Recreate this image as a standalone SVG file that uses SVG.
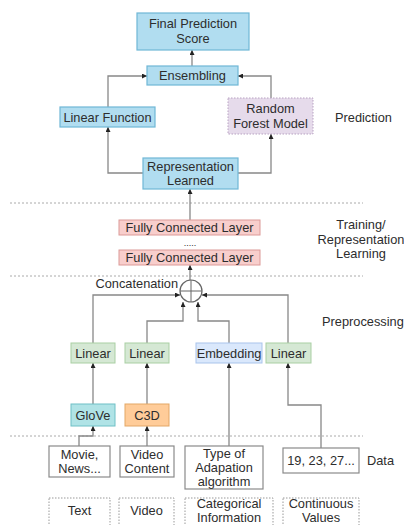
<svg xmlns="http://www.w3.org/2000/svg" width="404" height="525" viewBox="0 0 404 525">
<defs>
<marker id="ah" markerUnits="userSpaceOnUse" markerWidth="5" markerHeight="5" refX="5" refY="2.5" orient="auto">
<path d="M0,0 L5,2.5 L0,5 z" fill="#222"/>
</marker>
<style>
text{font-family:"Liberation Sans",Arial,sans-serif;font-size:12.8px;fill:#2d2d2d;}
.c{text-anchor:middle;}
.blue{fill:#b1ddf0;stroke:#6fb7d6;stroke-width:1.2;}
.red{fill:#f8cecc;stroke:#dc9a98;stroke-width:1;}
.green{fill:#d5e8d4;stroke:#a9cfa3;stroke-width:1;}
.lblue{fill:#dae8fc;stroke:#a9c4eb;stroke-width:1;}
.teal{fill:#b0e3e6;stroke:#6fc0c6;stroke-width:1;}
.orange{fill:#ffcc99;stroke:#e3a766;stroke-width:1;}
.purple{fill:#e6dbeb;stroke:#b8a2c2;stroke-width:1;stroke-dasharray:1.5,1.5;}
.data{fill:#fff;stroke:#8a8a8a;stroke-width:1.2;}
.dbox{fill:#fff;stroke:#999;stroke-width:1;stroke-dasharray:1.5,1.5;}
.sep{stroke:#aaa;stroke-width:1;stroke-dasharray:2,2;fill:none;}
.ln{fill:none;stroke:#888;stroke-width:1.3;}
.ar{marker-end:url(#ah);}
</style>
</defs>
<rect width="404" height="525" fill="#fff"/>

<g id="separators">
<path class="sep" d="M10,203 H363"/>
<path class="sep" d="M10,276 H363"/>
<path class="sep" d="M10,436 H363"/>
</g>

<g id="connectors">
<path class="ln ar" d="M192,66 V50"/>
<path class="ln ar" d="M108,107 V76 H147"/>
<path class="ln ar" d="M271,98 V76 H238"/>
<path class="ln ar" d="M143,173 H108 V127"/>
<path class="ln ar" d="M238,173 H271 V134"/>
<path class="ln ar" d="M190,220 V189"/>
<path class="ln ar" d="M190,280 V265"/>
<path class="ln ar" d="M93,343 V295 H180"/>
<path class="ln ar" d="M147,343 V321 H183 V302"/>
<path class="ln ar" d="M229,343 V321 H198 V302"/>
<path class="ln ar" d="M288,343 V295 H202"/>
<path class="ln ar" d="M93,404 V363"/>
<path class="ln ar" d="M147,404 V363"/>
<path class="ln ar" d="M229,446 V363"/>
<path class="ln ar" d="M321,448 V405 H288 V363"/>
<path class="ln ar" d="M79,446 V436 H93 V426"/>
<path class="ln ar" d="M147,446 V426"/>
</g>

<g id="final"><rect class="blue" x="137" y="13" width="112" height="37"/><text class="c" x="193" y="28">Final Prediction</text><text class="c" x="193" y="43">Score</text></g>
<g id="ensembling"><rect class="blue" x="147" y="66" width="91" height="19"/><text class="c" x="192.5" y="80">Ensembling</text></g>
<g id="linearfunction"><rect class="blue" x="60" y="107" width="95" height="20"/><text class="c" x="107.5" y="121.5">Linear Function</text></g>
<g id="randomforest"><rect class="purple" x="228" y="98" width="85" height="36"/><text class="c" x="270.5" y="113">Random</text><text class="c" x="270.5" y="128">Forest Model</text></g>
<g id="replearned"><rect class="blue" x="143" y="158" width="95" height="31"/><text class="c" x="190.5" y="170.5">Representation</text><text class="c" x="190.5" y="184.5">Learned</text></g>
<g id="label-prediction"><text x="335" y="121.5">Prediction</text></g>

<g id="fc1"><rect class="red" x="119" y="220" width="141" height="15"/><text class="c" x="189.5" y="232">Fully Connected Layer</text></g>
<g id="dots"><text class="c" x="190" y="246" style="font-size:9px">.....</text></g>
<g id="fc2"><rect class="red" x="119" y="250" width="141" height="15"/><text class="c" x="189.5" y="262">Fully Connected Layer</text></g>
<g id="label-training"><text class="c" x="361" y="229">Training/</text><text class="c" x="361" y="244">Representation</text><text class="c" x="361" y="258">Learning</text></g>

<g id="concat"><circle cx="191" cy="291" r="11" fill="#fff" stroke="#666" stroke-width="1.2"/><path d="M191,280 V302 M180,291 H202" stroke="#666" stroke-width="1"/><text x="178" y="288" style="text-anchor:end">Concatenation</text></g>
<g id="label-preprocessing"><text x="322" y="326">Preprocessing</text></g>

<g id="linear1"><rect class="green" x="71" y="343" width="44" height="20"/><text class="c" x="93" y="357.5">Linear</text></g>
<g id="linear2"><rect class="green" x="125" y="343" width="44" height="20"/><text class="c" x="147" y="357.5">Linear</text></g>
<g id="embedding"><rect class="lblue" x="196" y="343" width="66" height="20"/><text class="c" x="229" y="357.5">Embedding</text></g>
<g id="linear4"><rect class="green" x="266" y="343" width="45" height="20"/><text class="c" x="288.5" y="357.5">Linear</text></g>

<g id="glove"><rect class="teal" x="71" y="404" width="44" height="22"/><text class="c" x="93" y="419.5">GloVe</text></g>
<g id="c3d"><rect class="orange" x="125" y="404" width="44" height="22"/><text class="c" x="147" y="419.5">C3D</text></g>

<g id="movie"><rect class="data" x="49" y="446" width="61" height="31"/><text class="c" x="79.5" y="458.5">Movie,</text><text class="c" x="79.5" y="472.5">News...</text></g>
<g id="videocontent"><rect class="data" x="120" y="446" width="54" height="31"/><text class="c" x="147" y="458.5">Video</text><text class="c" x="147" y="472.5">Content</text></g>
<g id="adaptation"><rect class="data" x="185" y="446" width="78" height="43"/><text class="c" x="224" y="457.5">Type of</text><text class="c" x="224" y="471.5">Adapation</text><text class="c" x="224" y="485.5">algorithm</text></g>
<g id="values"><rect class="data" x="283" y="448" width="76" height="25"/><text class="c" x="321" y="465">19, 23, 27...</text></g>
<g id="label-data"><text x="367" y="465">Data</text></g>

<g id="type-text"><rect class="dbox" x="49" y="498" width="61" height="30"/><text class="c" x="79.5" y="515">Text</text></g>
<g id="type-video"><rect class="dbox" x="119" y="498" width="55" height="30"/><text class="c" x="146.5" y="515">Video</text></g>
<g id="type-categorical"><rect class="dbox" x="185" y="498" width="88" height="30"/><text class="c" x="229" y="508">Categorical</text><text class="c" x="229" y="522">Information</text></g>
<g id="type-continuous"><rect class="dbox" x="283" y="498" width="76" height="30"/><text class="c" x="321" y="507.5">Continuous</text><text class="c" x="321" y="521.5">Values</text></g>
</svg>
